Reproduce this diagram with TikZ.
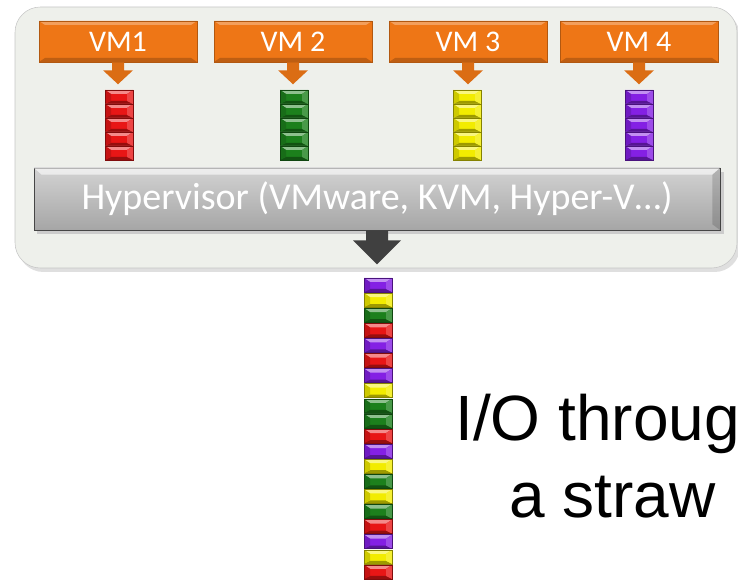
\documentclass[tikz,border=0pt]{standalone}
\usepackage{fontspec}
\setmainfont{Carlito}
\newfontfamily\arialfont{Liberation Sans}
\usetikzlibrary{calc,positioning}
\definecolor{vmorange}{RGB}{238,118,22}
\definecolor{brRed}{RGB}{232,22,22}
\definecolor{brGreen}{RGB}{28,128,28}
\definecolor{brYellow}{RGB}{242,236,0}
\definecolor{brPurple}{RGB}{132,32,228}
\definecolor{panelgray}{RGB}{238,240,235}
\tikzset{x=0.75pt,y=-0.75pt}
\tikzset{
  panel/.style={draw=gray!45, fill=panelgray, rounded corners=19pt,
    minimum width=541.5pt, minimum height=195.75pt},
  vmbox/.style={draw=vmorange!75!black, fill=vmorange, text=white,
    minimum width=118.5pt, minimum height=30.75pt, inner sep=0pt,
    font=\fontsize{22.5}{24}\selectfont,
    path picture={
      \fill[vmorange!70!white] (path picture bounding box.north west) -- (path picture bounding box.north east)
        -- ($(path picture bounding box.north east)+(-6,4)$) -- ($(path picture bounding box.north west)+(6,4)$) -- cycle;
      \fill[vmorange!80!black] (path picture bounding box.south west) -- (path picture bounding box.south east)
        -- ($(path picture bounding box.south east)+(-6,-4)$) -- ($(path picture bounding box.south west)+(6,-4)$) -- cycle;
    }},
  hyperbox/.style={draw=gray!55!black, top color=gray!35, bottom color=gray!70, text=white,
    minimum width=514.5pt, minimum height=46.5pt, inner sep=0pt,
    font=\fontsize{28.5}{30}\selectfont},
  brick/.style={draw=#1!55!black, line width=0.4pt, fill=#1,
    minimum width=21pt, minimum height=10.5pt, inner sep=0pt,
    path picture={
      \fill[#1!50!white] (path picture bounding box.north west) -- (path picture bounding box.north east)
        -- ($(path picture bounding box.north east)+(-6,4)$) -- ($(path picture bounding box.north west)+(6,4)$) -- cycle;
      \fill[#1!65!black] (path picture bounding box.south west) -- (path picture bounding box.south east)
        -- ($(path picture bounding box.south east)+(-6,-3)$) -- ($(path picture bounding box.south west)+(6,-3)$) -- cycle;
      \fill[#1!85!black] (path picture bounding box.north west) -- ($(path picture bounding box.north west)+(6,4)$)
        -- ($(path picture bounding box.south west)+(6,-3)$) -- (path picture bounding box.south west) -- cycle;
      \fill[#1!80!white] (path picture bounding box.north east) -- ($(path picture bounding box.north east)+(-6,4)$)
        -- ($(path picture bounding box.south east)+(-6,-3)$) -- (path picture bounding box.south east) -- cycle;
    }},
  bigtext/.style={font=\arialfont\fontsize{48}{52}\selectfont, inner sep=0pt, anchor=base west}
}
% block arrow hanging under a node: #1 node, #2 colour, #3 stem half width, #4 stem length, #5 head half width, #6 head length
\newcommand{\dropArrow}[6]{%
  \fill[#2] ($(#1.south)+(-#3,0)$) -- ($(#1.south)+(#3,0)$) -- ($(#1.south)+(#3,#4)$) -- ($(#1.south)+(#5,#4)$)
    -- ($(#1.south)+(0,#4+#6)$) -- ($(#1.south)+(-#5,#4)$) -- ($(#1.south)+(-#3,#4)$) -- cycle;}

\begin{document}
\begin{tikzpicture}
  \useasboundingbox (0,0) rectangle (738,584);

  % Host
  \fill[gray!25, rounded corners=19pt] (18,11) rectangle (740,272);
  \node[panel] (host) at (376,137.5) {};

  % VMs
  \node[vmbox] (vm1) at (118,41.5) {VM1};
  \node[vmbox] (vm2) at (293,41.5) {VM 2};
  \node[vmbox] (vm3) at (468,41.5) {VM 3};
  \node[vmbox] (vm4) at (639,41.5) {VM 4};
  \foreach \v in {vm1,vm2,vm3,vm4}
    \dropArrow{\v}{vmorange!92!black}{6}{8}{15}{14};

  % Queues
  \foreach \k in {1,...,5} {
    \node[brick=brRed]    (qa\k) at (119,{97+14*(\k-1)}) {};
    \node[brick=brGreen]  (qb\k) at (294,{97+14*(\k-1)}) {};
    \node[brick=brYellow] (qc\k) at (467,{97+14*(\k-1)}) {};
    \node[brick=brPurple] (qd\k) at (639,{97+14*(\k-1)}) {};
  }

  % Hypervisor
  \fill[gray!40] (37,172) rectangle (724,234);
  \node[hyperbox] (hv) at (377,199) {Hypervisor (VMware, KVM, Hyper-V\dots)};
  \fill[white, opacity=0.6] (hv.north west) -- (hv.north east) -- ($(hv.north east)+(-8,7)$) -- ($(hv.north west)+(8,7)$) -- cycle;
  \fill[black, opacity=0.15] (hv.north east) -- (hv.south east) -- ($(hv.south east)+(-8,-6)$) -- ($(hv.north east)+(-8,7)$) -- cycle;
  \dropArrow{hv}{black!75}{11}{10}{24}{24};

  % Straw
  \foreach \c [count=\k] in {brPurple,brYellow,brGreen,brRed,brPurple,brRed,brPurple,brYellow,brGreen,brGreen,
                             brRed,brPurple,brYellow,brGreen,brYellow,brGreen,brRed,brPurple,brYellow,brRed}
    \node[brick=\c] (straw\k) at (378,{285+15.1*(\k-1)}) {};

  % Labels
  \node[bigtext] (io) at (455,440) {I/O throug};
  \node[bigtext] (straw) at (509,517) {a straw};
\end{tikzpicture}
\end{document}
